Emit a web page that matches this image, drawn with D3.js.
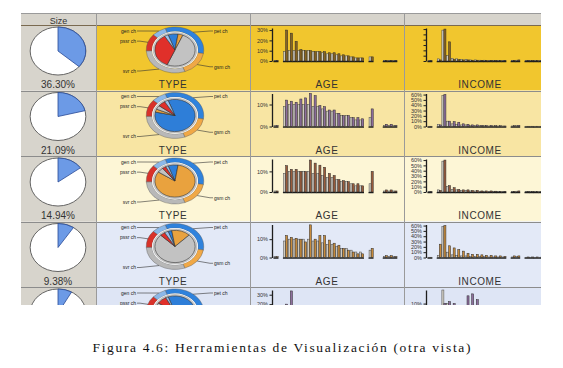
<!DOCTYPE html>
<html><head><meta charset="utf-8">
<script src="https://cdn.jsdelivr.net/npm/d3@7"></script>
<style>body{margin:0;background:#fff}svg{display:block}</style>
</head><body><svg id="c" width="563" height="368"></svg>
<script>
// ---------------- DATA ----------------
const clusters = ["C1","C2","C3","C4","C5"];
const sizeValues = [36.30, 21.09, 14.94, 9.38, 8.10];
const sizeLabels = ["36.30%","21.09%","14.94%","9.38%",""];

const typeNames   = ["pet ch","gsm ch","svr ch","pssr ch","gen ch"];
const typeOverall = [33, 17, 30, 12, 8];
const typeC1 = [8, 4, 50, 35, 3];
const typeC2 = [84, 3, 4, 6, 3];
const typeC3 = [8, 82, 5, 3, 2];
const typeC4 = [3, 15, 75, 4, 3];
const typeC5 = [80, 4, 6, 8, 2];

const ageBins = ["?","g1","17","20","23","26","29","32","35","38","41","44","47","50","53","56","59","62","65","g2","70+","g3","g4","x1","x2","x3"];
const ageOverall = [0.5,null,9,10,10,10,10,10,9,9,8,7,7,6,5,5,4,3,3,null,4,null,null,0.5,0.5,0.5];
const age1 = [0.3,null,30,27,19,11,10,10,9,9,9,8,8,7,6,5,4,3,3,null,4,null,null,0.5,0.5,0.5];
const age2 = [0.5,null,12,11.5,11,12.5,13,15.5,14,9.5,9,7.5,7.5,6,5,5,4,4,3.5,null,8,null,null,1,1,0.5];
const age3 = [0.5,null,12.8,11,11,10,10,15.5,14,13,12,9,8,6,5.5,5,4,4,3,null,10,null,null,1,1,0.5];
const age4 = [0.5,null,12,11,10.5,10,8.5,17.8,10,12,12,9.5,7.8,6.7,5,4,3,2,2,null,5,null,null,1,1,0.5];
const age5 = [0.5,null,20,34,15,10,9,8,7,6,6,5,5,4,4,3,3,2,2,null,3,null,null,1,1,0.5];
const ageMax = [32, 15, 16, 18, 35];
const ageTicks = [[0,10,20,30],[0,10],[0,10],[0,10],[10,20,30]];

const incomeBins = ["?","g1","0","5","10","15","20","25","30","35","40","45","50","55","60","65","70","g2","80","90","g3","100","110","120","130"];
const incomeOverall = [0.5,null,4,58,10,5,4,3,3,2,2,1.5,1.5,1,1,1,1,null,1,1.5,null,0.5,0.5,0.5,0.5];
const income1 = [0.5,null,2,60,36,3,2.5,2,2,1.5,1.5,1,1,1,0.5,0.5,0.5,null,1,2,null,0.5,0.5,0.5,0.5];
const income2 = [0.5,null,3,60,10,9,8,5,4,3,3,2,2,2,1.5,1.5,1,null,1.5,2,null,0.5,0.5,0.5,0.5];
const income3 = [0.5,null,3,60,12,8,5,4,4,3,3,2,2,2,1.5,1,1,null,1,2,null,0.5,0.5,0.5,0.5];
const income4 = [0.5,null,25,60,22,18,15,12,8,6,6,5,4,4,3,3,2,null,3,3,null,1,1,1,1];
const income5 = [0.5,null,2,10,11,10,4,3,14,15,12,8,5,3,2,2,1,null,1,1,null,0.5,0.5,0.5,0.5];
const incomeMax = [62, 62, 62, 62, 17];
const incomeTicks = [[0,10,20,30,40,50,60],[0,10,20,30,40,50,60],[0,10,20,30,40,50,60],[0,10,20,30,40,50,60],[10]];

const columnTitles = ["TYPE","AGE","INCOME"];
const caption = "Figura 4.6: Herramientas de Visualización (otra vista)";

// ---------------- LAYOUT / STYLE ----------------
const typeRows = [typeC1,typeC2,typeC3,typeC4,typeC5];
const ageRows = [age1,age2,age3,age4,age5];
const incomeRows = [income1,income2,income3,income4,income5];
const showIncomeLabels = [false,true,true,true,true];
const rowComplete = [true,true,true,true,false];

const svg = d3.select("#c");
const colX = [21, 96, 250, 404, 541];
const tableTop = 13, headerBottom = 25, tableBottom = 305, rowH = 65.5;
const rowTop = i => headerBottom + i*rowH;
const rowBg = ["#F1C62E","#F8E5A3","#FDF6D6","#E3E9F7","#DEE5F5"];
const barColor = ["#8A6420","#8E6E9E","#9A5C3C","#C98C3C","#8E6E9E"];
const typeColors = ["#2F82DC","#F0A846","#B8B8B8","#D8322A","#8CB8E8"];
const innerColors = ["#2E7ED8","#E9A23E","#C2C2C2","#E0302A","#9EC2EA"];

const defs = svg.append("defs");
defs.append("clipPath").attr("id","clip").append("rect")
  .attr("x",colX[0]).attr("y",tableTop).attr("width",colX[4]-colX[0]).attr("height",tableBottom-tableTop);

const g = svg.append("g").attr("clip-path","url(#clip)");

// header
g.append("rect").attr("x",colX[0]).attr("y",tableTop).attr("width",colX[4]-colX[0])
  .attr("height",headerBottom-tableTop).attr("fill","#D7D4CC");
g.append("text").attr("x",(colX[0]+colX[1])/2).attr("y",23.5).attr("text-anchor","middle")
  .attr("font-family","Arial, Liberation Sans, sans-serif").attr("font-size",9).attr("fill","#333").text("Size");

// row backgrounds
clusters.forEach((c,i)=>{
  const y0 = rowTop(i);
  g.append("rect").attr("x",colX[1]).attr("y",y0).attr("width",colX[4]-colX[1]).attr("height",rowH).attr("fill",rowBg[i]);
  g.append("rect").attr("x",colX[0]).attr("y",y0).attr("width",colX[1]-colX[0]).attr("height",rowH).attr("fill","#D7D4CC");
});

// grid lines
g.append("line").attr("x1",colX[0]).attr("x2",colX[4]).attr("y1",tableTop+0.5).attr("y2",tableTop+0.5).attr("stroke","#9A9A9A");
clusters.forEach((c,i)=>{
  const y = Math.round(rowTop(i))+0.5;
  g.append("line").attr("x1",colX[0]).attr("x2",colX[4]).attr("y1",y).attr("y2",y).attr("stroke", i===0?"#7A6A50":"#8C8C8C").attr("stroke-width",1);
});
colX.slice(1,4).forEach(x=>{
  g.append("line").attr("x1",x+0.5).attr("x2",x+0.5).attr("y1",tableTop).attr("y2",tableBottom).attr("stroke","#9A9A9A");
});

const sans = "Arial, Liberation Sans, sans-serif";
const sizeAngle = d3.scaleLinear().domain([0,100]).range([0,2*Math.PI]);
const pieR = 24;
const sizeArc = d3.arc().innerRadius(0).outerRadius(pieR);

const R = 23;
const outerArc = d3.arc().innerRadius(R*0.8).outerRadius(R);
const innerPieArc = d3.arc().innerRadius(0).outerRadius(R*0.7);
const typePie = d3.pie().sort(null).value(d=>d).startAngle(-0.35).endAngle(2*Math.PI-0.35);

function hist(gp, bins, over, vals, yMax, ticks, showLab, x0, x1, axisX, top, base, color) {
  const x = d3.scaleBand().domain(bins).range([x0,x1]).paddingInner(0.12);
  const y = d3.scaleLinear().domain([0,yMax]).range([base, top]).clamp(true);
  const bw = x.bandwidth()/2;
  const idx = d3.range(bins.length).filter(k => vals[k] != null);
  gp.selectAll(null).data(over.map((v,k)=>k).filter(k=>over[k]!=null)).join("rect")
    .attr("x",k=>x(bins[k])).attr("y",k=>y(over[k])).attr("width",bw).attr("height",k=>base-y(over[k]))
    .attr("fill","#CFCBC2").attr("stroke","#4A4A4A").attr("stroke-width",0.5);
  gp.selectAll(null).data(idx).join("rect")
    .attr("x",k=>x(bins[k])+bw).attr("y",k=>y(vals[k])).attr("width",bw).attr("height",k=>base-y(vals[k]))
    .attr("fill",color).attr("stroke","#2A2A2A").attr("stroke-width",0.5);
  gp.selectAll(null).data(idx).join("line")
    .attr("x1",k=>x(bins[k])-x.step()*0.12).attr("x2",k=>x(bins[k])+x.bandwidth()+0.3)
    .attr("y1",base+0.6).attr("y2",base+0.6).attr("stroke","#1E1E1E").attr("stroke-width",1.3);
  const ax = d3.axisLeft(y).tickValues(ticks).tickSize(2.5).tickSizeOuter(0).tickPadding(1.5)
    .tickFormat(showLab ? d=>d+"%" : "");
  const ag = gp.append("g").attr("transform",`translate(${axisX},0)`).call(ax);
  ag.select(".domain").attr("stroke","#1E1E1E").attr("stroke-width",1.3);
  ag.selectAll(".tick line").attr("stroke","#1E1E1E").attr("stroke-width",1);
  ag.selectAll("text").attr("font-size",5.5).attr("fill","#333").attr("font-family",sans);
}

const titleX = [173, 327, 480];

clusters.forEach((c,i)=>{
  const y0 = rowTop(i);
  // ---- size pie ----
  const gp = g.append("g").attr("transform",`translate(58,${y0+26}) scale(1.16,1)`);
  gp.append("circle").attr("r",pieR).attr("fill","#fff").attr("stroke","#555").attr("stroke-width",0.9).attr("vector-effect","non-scaling-stroke");
  gp.append("path").attr("d",sizeArc({startAngle:0,endAngle:sizeAngle(sizeValues[i])}))
    .attr("fill","#6C9AE6").attr("stroke","#2A4A96").attr("stroke-width",0.8).attr("vector-effect","non-scaling-stroke");

  // ---- TYPE radial ----
  const cx = 175, cy = y0+25, sx = 1.25;
  const gr = g.append("g").attr("transform",`translate(${cx},${cy}) scale(${sx},1)`);
  const outer = typePie(typeOverall);
  gr.selectAll(null).data(outer).join("path").attr("d",outerArc)
    .attr("fill",(d,k)=>typeColors[k]).attr("stroke","#555").attr("stroke-width",0.4).attr("vector-effect","non-scaling-stroke");
  gr.append("circle").attr("r",R*0.8).attr("fill","#fff");
  gr.append("circle").attr("r",R*0.76).attr("fill","#CFCFCF").attr("stroke","#888").attr("stroke-width",0.4).attr("vector-effect","non-scaling-stroke");
  gr.selectAll(null).data(typePie(typeRows[i])).join("path").attr("d",innerPieArc)
    .attr("fill",(d,k)=>innerColors[k]).attr("stroke","#333").attr("stroke-width",0.6).attr("vector-effect","non-scaling-stroke");
  outer.forEach((d,k)=>{
    const a = (d.startAngle+d.endAngle)/2;
    const px = cx + sx*R*Math.sin(a), py = cy - R*Math.cos(a);
    const right = Math.sin(a) >= 0;
    const lx = right ? cx+38 : cx-38;
    const ly = Math.max(y0+6, Math.min(y0+46, cy - R*1.15*Math.cos(a)));
    g.append("polyline").attr("points",`${px},${py} ${right?lx-3:lx+3},${ly} ${lx},${ly}`)
      .attr("fill","none").attr("stroke","#333").attr("stroke-width",0.6);
    g.append("text").attr("x",right?lx+1:lx-1).attr("y",ly+1.8).attr("text-anchor",right?"start":"end")
      .attr("font-family",sans).attr("font-size",5).attr("fill","#222").text(typeNames[k]);
  });

  // ---- AGE ----
  hist(g.append("g"), ageBins, ageOverall, ageRows[i], ageMax[i], ageTicks[i], true, 274, 397, 272, y0+3, y0+36, barColor[i]);
  // ---- INCOME ----
  hist(g.append("g"), incomeBins, incomeOverall, incomeRows[i], incomeMax[i], incomeTicks[i], showIncomeLabels[i], 428, 543, 426, y0+3, y0+36, barColor[i]);

  // bottom labels (only for rows fully visible)
  if (rowComplete[i]) {
    g.append("text").attr("x",58).attr("y",y0+63).attr("text-anchor","middle").attr("font-family",sans)
      .attr("font-size",10).attr("fill","#333").text(sizeLabels[i]);
    columnTitles.forEach((t,k)=>{
      g.append("text").attr("x",titleX[k]).attr("y",y0+63).attr("text-anchor","middle").attr("font-family",sans)
        .attr("font-size",10).attr("letter-spacing",0.6).attr("fill","#333").text(t);
    });
  }
});

// caption
svg.append("text").attr("x",281.5).attr("y",352).attr("text-anchor","middle")
  .attr("font-family","Liberation Serif, DejaVu Serif, serif").attr("font-size",13.5).attr("fill","#111")
  .attr("textLength",378).attr("lengthAdjust","spacing").text(caption);
</script></body></html>
